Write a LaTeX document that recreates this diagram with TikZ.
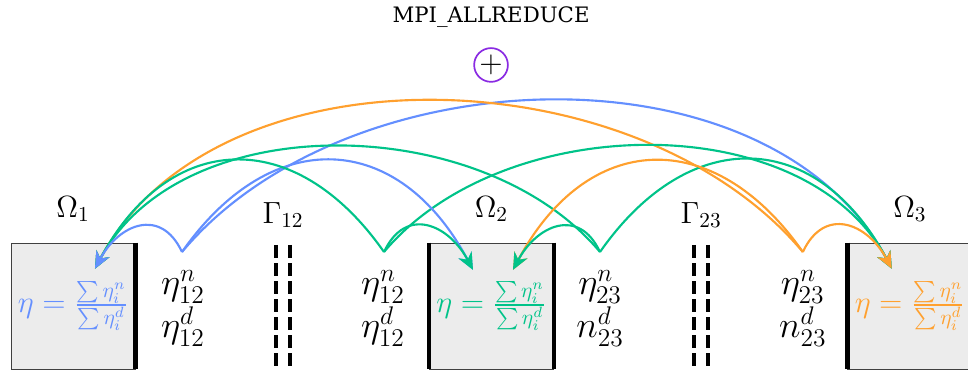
\documentclass[tikz,border=0pt]{standalone}
\usepackage{amsmath}
\usepackage{amssymb}
\usepackage{fontspec}
\usepackage{tikz}
\usepackage{xcolor}
\usetikzlibrary{positioning, arrows.meta, calc}

\newfontfamily\mpifont{DejaVu Serif}

\definecolor{azul}{HTML}{648FFF}
\definecolor{verde}{HTML}{00C389}
\definecolor{naranja}{HTML}{FFA02E}
\definecolor{morado}{HTML}{8A2BE2}

\begin{document}
\begin{tikzpicture}[
				% --- ESTILOS ---
				domblock/.style={
					rectangle, draw=darkgray, fill=gray!15, inner sep=0pt,
					minimum width=2.05cm, minimum height=2.08cm, align=center, font=\Large
				},
				domlabel/.style={
					font=\Large, inner sep=1pt
				},
				etalabel/.style={
					font=\LARGE, align=center, inner sep=1pt
				},
				iface/.style={
					draw, dashed, line width=1.6pt, dash pattern=on 6pt off 2.5pt
				},
				wall/.style={
					draw, line width=2pt
				},
				flow/.style={
					draw, -{Stealth[length=8pt,width=7pt]}, line width=1pt
				},
				% curvas hacia la derecha / izquierda
				shortR/.style={out=65, in=118, looseness=1.45},
				shortL/.style={out=115, in=62, looseness=1.45},
				midR/.style={out=55, in=118, looseness=1.38},
				midL/.style={out=125, in=62, looseness=1.38},
				farR/.style={out=50, in=118, looseness=0.93},
				farL/.style={out=130, in=62, looseness=0.93}
				]
				
				\useasboundingbox (0,0) rectangle (16,6.149);
				
				% ==========================================
				% 1. Subdominios
				% ==========================================
				\node [domblock] (omega1) at (1.207,1.091) {\color{azul}$\eta = \frac{\sum \eta_i^n}{\sum \eta_i^d}$};
				\node [domblock] (omega2) at (8.124,1.091) {\color{verde}$\eta = \frac{\sum \eta_i^n}{\sum \eta_i^d}$};
				\node [domblock] (omega3) at (15.04,1.091) {\color{naranja}$\eta = \frac{\sum \eta_i^n}{\sum \eta_i^d}$};
				
				% lados en contacto con las interfaces
				\draw [wall] (omega1.north east) -- (omega1.south east);
				\draw [wall] (omega2.north west) -- (omega2.south west);
				\draw [wall] (omega2.north east) -- (omega2.south east);
				\draw [wall] (omega3.north west) -- (omega3.south west);
				
				\node [domlabel, above=0.3cm of omega1] (lab_om1) {$\Omega_1$};
				\node [domlabel, above=0.3cm of omega2] (lab_om2) {$\Omega_2$};
				\node [domlabel, above=0.3cm of omega3] (lab_om3) {$\Omega_3$};
				
				% ==========================================
				% 2. Interfaces
				% ==========================================
				\coordinate (g12_top) at (4.677,2.10);
				\coordinate (g23_top) at (11.585,2.10);
				\draw [iface] ($(g12_top)+(-0.115,0)$) -- ++(0,-2.05);
				\draw [iface] ($(g12_top)+(0.115,0)$) -- ++(0,-2.05);
				\draw [iface] ($(g23_top)+(-0.115,0)$) -- ++(0,-2.05);
				\draw [iface] ($(g23_top)+(0.115,0)$) -- ++(0,-2.05);
				
				\node [domlabel] (lab_g12) at (4.68,2.595) {$\Gamma_{12}$};
				\node [domlabel] (lab_g23) at (11.59,2.595) {$\Gamma_{23}$};
				
				% ==========================================
				% 3. Valores en la interfaz
				% ==========================================
				\node [etalabel] (eta12a) at (3.025,1.05) {$\eta^n_{12}$\\[-2pt]$\eta^d_{12}$};
				\node [etalabel] (eta12b) at (6.33,1.05) {$\eta^n_{12}$\\[-2pt]$\eta^d_{12}$};
				\node [etalabel] (eta23a) at (9.92,1.05) {$\eta^n_{23}$\\[-2pt]$n^d_{23}$};
				\node [etalabel] (eta23b) at (13.27,1.05) {$\eta^n_{23}$\\[-2pt]$n^d_{23}$};
				
				% puntos de salida
				\coordinate (src1) at (3.008,1.984);
				\coordinate (src2) at (6.347,1.984);
				\coordinate (src3) at (9.917,1.984);
				\coordinate (src4) at (13.27,1.984);
				
				% puntos de llegada
				\coordinate (dst1) at ($(omega1.north)+(0.363,-0.43)$);
				\coordinate (dst2a) at ($(omega2.north)+(-0.306,-0.45)$);
				\coordinate (dst2b) at ($(omega2.north)+(0.355,-0.45)$);
				\coordinate (dst3) at ($(omega3.north)+(-0.30,-0.43)$);
				
				% ==========================================
				% 4. Reduccion global
				% ==========================================
				\node [circle, draw=morado, thick, inner sep=0.5pt, font=\Large] (reduce) at (8.116,5.075) {$+$};
				\node [above=0.2cm of reduce, font=\mpifont\fontsize{10}{12}\selectfont] (mpi) {MPI\_ALLREDUCE};
				
				% --- Largos ---
				\draw [flow, azul] (src1) to[farR] (dst3);
				\draw [flow, naranja] (src4) to[farL] (dst1);
				\draw [flow, verde] (src2) to[farR] (dst3);
				\draw [flow, verde] (src3) to[farL] (dst1);
				
				% --- Medios ---
				\draw [flow, azul] (src1) to[midR] (dst2a);
				\draw [flow, verde] (src2) to[midL] (dst1);
				\draw [flow, verde] (src3) to[midR] (dst3);
				\draw [flow, naranja] (src4) to[midL] (dst2b);
				
				% --- Cortos ---
				\draw [flow, azul] (src1) to[shortL] (dst1);
				\draw [flow, verde] (src2) to[shortR] (dst2a);
				\draw [flow, verde] (src3) to[shortL] (dst2b);
				\draw [flow, naranja] (src4) to[shortR] (dst3);
			\end{tikzpicture}
\end{document}
